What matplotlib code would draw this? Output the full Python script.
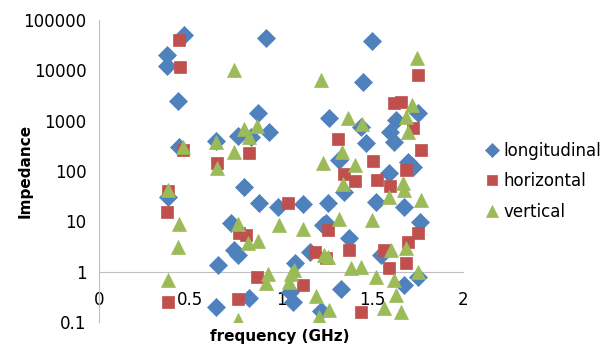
import matplotlib
matplotlib.use("Agg")
import matplotlib.pyplot as plt
from matplotlib.ticker import FixedLocator, FixedFormatter

# ---- data (frequency in GHz, impedance) ----
long_x = [0.467, 0.374, 0.374, 0.434, 0.918, 1.50, 1.451, 0.874, 0.934, 0.764,
          0.835, 0.643, 0.44, 1.264, 1.44, 1.599, 1.632, 1.753, 1.467, 1.621,
          1.319, 1.593, 1.698, 1.725, 1.522, 1.676, 1.764, 0.379, 0.797, 0.879,
          0.984, 1.121, 1.258, 1.247, 1.346, 0.725, 0.742, 0.764, 0.654, 1.077,
          1.159, 1.231, 1.374, 0.824, 0.643, 1.049, 1.066, 1.33, 1.22, 1.549,
          1.676, 1.753]
long_y = [50500, 20200, 12200, 2460, 44000, 38400, 5880, 1420, 597, 497,
          475, 395, 300, 1130, 750, 597, 1030, 1420, 361, 378,
          166, 91, 151, 120, 24.3, 19.3, 9.7, 30.5, 48.2, 23.2,
          19.3, 22.1, 23.2, 9.3, 38.3, 9.3, 2.7, 2.15, 1.36, 1.49,
          2.46, 8.5, 4.7, 0.30, 0.199, 0.395, 0.25, 0.453, 0.166, 2.15,
          0.544, 0.785]

hor_x = [0.44, 0.445, 0.462, 0.648, 0.824, 0.379, 0.374, 1.038, 0.769, 0.808,
         0.868, 1.121, 0.764, 0.379, 1.258, 1.187, 1.247, 1.374, 1.44, 1.313,
         1.346, 1.407, 1.505, 1.753, 1.621, 1.659, 1.725, 1.769, 1.687, 1.527,
         1.599, 1.566, 1.698, 1.753, 1.593, 1.687]
hor_y = [40200, 11700, 262, 144, 228, 40, 15.3, 23.2, 5.9, 5.4,
         0.785, 0.544, 0.287, 0.25, 6.7, 2.46, 1.87, 2.7, 0.158, 433,
         87, 63, 158, 8100, 2250, 2350, 716, 262, 105, 66,
         50.5, 2.7, 3.9, 5.9, 1.18, 1.49]

ver_x = [0.742, 0.462, 0.643, 0.742, 0.797, 0.824, 0.868, 0.648, 1.22, 1.368,
         1.445, 1.747, 1.72, 1.687, 1.698, 1.335, 1.231, 1.407, 1.341, 0.379,
         0.44, 0.434, 0.379, 0.764, 0.819, 0.874, 0.989, 1.121, 1.319, 1.50,
         1.67, 1.593, 1.676, 1.769, 1.236, 1.258, 1.604, 1.687, 0.929, 0.918,
         1.055, 1.071, 1.044, 1.385, 1.44, 1.522, 1.621, 1.753, 1.632, 1.192,
         1.264, 1.209, 1.566, 1.659, 0.764]
ver_y = [10200, 300, 378, 239, 684, 475, 785, 115, 6440, 1130,
         860, 17600, 2050, 1185, 597, 239, 144, 132, 55, 42,
         8.9, 3.1, 0.684, 8.9, 3.7, 4.07, 8.5, 7.05, 11.1, 10.6,
         58, 30.5, 42, 26.6, 2.15, 1.96, 2.7, 2.96, 0.90, 0.596,
         0.90, 1.08, 0.624, 1.18, 1.24, 0.785, 0.684, 0.99, 0.344, 0.329,
         0.173, 0.126, 0.19, 0.158, 0.11]

series_names = ["longitudinal", "horizontal", "vertical"]
y_ticks = [0.1, 1, 10, 100, 1000, 10000, 100000]
y_tick_labels = ["0.1", "1", "10", "100", "1000", "10000", "100000"]
x_ticks = [0, 0.5, 1, 1.5, 2]
x_tick_labels = ["0", "0.5", "1", "1.5", "2"]

plt.rcParams['font.family'] = ['DejaVu Sans']

fig = plt.figure(figsize=(6.14, 3.47), dpi=100)
ax = fig.add_axes([99/614, 1-322/347, (463-99)/614, (322-20)/347])

ax.plot(long_x, long_y, linestyle='none', marker='D', ms=9.0,
        color='#4F81BD', mec='#4F81BD', mew=0.5, label=series_names[0], zorder=3)
ax.plot(hor_x, hor_y, linestyle='none', marker='s', ms=8.6,
        color='#C0504D', mec='#C0504D', mew=0.5, label=series_names[1], zorder=4)
ax.plot(ver_x, ver_y, linestyle='none', marker='^', ms=10.5,
        color='#9BBB59', mec='#9BBB59', mew=0.5, label=series_names[2], zorder=5)

ax.set_yscale('log')
ax.set_ylim(0.1, 100000)
ax.set_xlim(0, 2)
ax.yaxis.set_major_locator(FixedLocator(y_ticks))
ax.yaxis.set_major_formatter(FixedFormatter(y_tick_labels))
ax.yaxis.set_minor_locator(FixedLocator([]))
ax.xaxis.set_major_locator(FixedLocator(x_ticks))
ax.xaxis.set_major_formatter(FixedFormatter(x_tick_labels))

for s in ['top', 'right']:
    ax.spines[s].set_visible(False)
ax.spines['left'].set_color('#BFBFBF')
ax.spines['bottom'].set_color('#BFBFBF')
ax.spines['bottom'].set_position(('data', 1))
ax.tick_params(axis='y', length=0, pad=9, labelsize=12, colors='black')
ax.tick_params(axis='x', length=0, pad=14, labelsize=12, colors='black')

fig.text(280/614, 1-337/347, "frequency (GHz)", fontsize=11, fontweight='bold',
         ha='center', va='center')
fig.text(25/614, 1-171/347, "Impedance", fontsize=11, fontweight='bold',
         ha='center', va='center', rotation=90)

leg = ax.legend(loc='center left', bbox_to_anchor=(485/614, 1-181/347),
                bbox_transform=fig.transFigure, frameon=False, fontsize=12,
                handlelength=0.8, handletextpad=0.3, labelspacing=0.75,
                markerscale=0.8, borderaxespad=0, borderpad=0)

fig.savefig("out.png", dpi=100)
